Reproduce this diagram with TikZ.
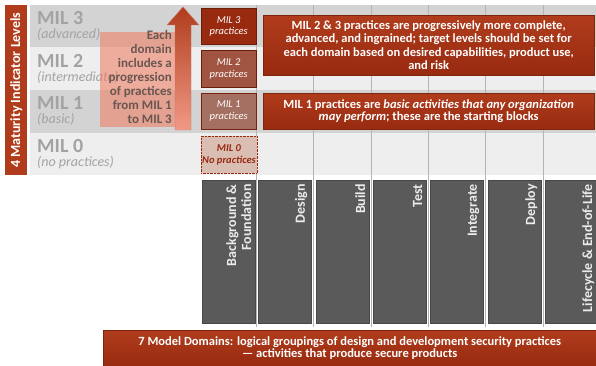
\documentclass[tikz,border=0pt]{standalone}
\usepackage{fontspec}
\setmainfont{Carlito}
\usetikzlibrary{positioning,shadings}

\definecolor{milred}{HTML}{B03C1C}
\definecolor{milreddark}{HTML}{982A10}
\definecolor{domgray}{HTML}{5A5A5A}
\definecolor{bandgray}{HTML}{D3D3D3}
\definecolor{bandlight}{HTML}{EEEEEE}
\definecolor{labelgray}{HTML}{A3A3A3}
\definecolor{colline}{HTML}{B4B4B4}
\definecolor{arrowtext}{HTML}{6A5650}
\definecolor{salmon}{HTML}{EE8068}

\tikzset{
  redbox/.style={rectangle, top color=milred, bottom color=milreddark,
    draw=milreddark!85!black, text=white, align=center, inner sep=2pt,
    font=\bfseries\fontsize{12.5}{13.5}\selectfont},
  milbox/.style={rectangle, anchor=north west, minimum width=55pt,
    text=white, align=center, inner sep=1pt,
    font=\itshape\fontsize{10.5}{11.5}\selectfont},
  domainbox/.style={rectangle, anchor=north west, fill=domgray,
    draw=domgray!80!black, minimum width=53pt, minimum height=143pt},
  domainlabel/.style={rotate=90, anchor=south east, text=white!92!black,
    align=right, inner sep=4pt, font=\bfseries\fontsize{14}{15}\selectfont},
  milname/.style={anchor=base west, text=labelgray, inner sep=0pt,
    font=\bfseries\fontsize{20}{22}\selectfont},
  milsub/.style={anchor=base west, text=labelgray, inner sep=0pt,
    font=\itshape\fontsize{14}{16}\selectfont}
}

\begin{document}
\begin{tikzpicture}[x=1pt, y=-1pt]
\useasboundingbox[fill=white] (0,0) rectangle (596,366);

% Level bands
\fill[bandgray]  (30,5)   rectangle (596,47);
\fill[bandlight] (30,47)  rectangle (596,90);
\fill[bandgray]  (30,90)  rectangle (596,133);
\fill[bandlight] (30,133) rectangle (596,175);

% Column lines
\foreach \x in {256, 313, 371, 428, 485, 543}
    \draw[colline, line width=1pt] (\x,5) -- (\x,327);

% Side bar
\node[rectangle, fill=milred, anchor=north west, minimum width=22pt,
      minimum height=170pt, inner sep=0pt] (sidebar) at (5,5) {};
\node[rotate=90, text=white, font=\bfseries\fontsize{14}{15}\selectfont]
      (sidetext) at (sidebar.center) {4 Maturity Indicator Levels};

% Level names
\node[milname] (mil3) at (37,25)  {MIL 3};
\node[milsub]  (sub3) at (37,39)  {(advanced)};
\node[milname] (mil2) at (37,68)  {MIL 2};
\node[milsub]  (sub2) at (37,82)  {(intermediate)};
\node[milname] (mil1) at (37,110) {MIL 1};
\node[milsub]  (sub1) at (37,124) {(basic)};
\node[milname] (mil0) at (37,153) {MIL 0};
\node[milsub]  (sub0) at (37,167) {(no practices)};

% Progression panel
\fill[salmon, opacity=0.6] (100,32) rectangle (175,127);
\node[anchor=north east, align=right, text=arrowtext, inner sep=0pt,
      font=\bfseries\fontsize{13}{14}\selectfont] (progtext) at (172,30)
      {Each\\domain\\includes a\\progression\\of practices\\from MIL 1\\to MIL 3};
\shade[top color=milred, bottom color=salmon!80!white, draw=milred!70!white]
      (175,130) -- (175,25) -- (167,25) -- (183,7) -- (199,25)
      -- (191,25) -- (191,130) -- cycle;

% Practice boxes
\node[milbox, fill=milreddark, draw=milreddark!70!black, minimum height=36pt]
      (prac3) at (201,8) {MIL 3\\practices};
\node[milbox, fill={rgb,255:red,160;green,84;blue,66}, draw=milreddark!70!black,
      minimum height=37pt] (prac2) at (201,50) {MIL 2\\practices};
\node[milbox, fill={rgb,255:red,164;green,112;blue,98}, draw=milreddark!80!black,
      minimum height=36pt] (prac1) at (201,93) {MIL 1\\practices};
\node[milbox, fill={rgb,255:red,218;green,190;blue,180}, draw=milreddark,
      densely dotted, text=milreddark, minimum height=37pt,
      font=\bfseries\itshape\fontsize{10.5}{11.5}\selectfont]
      (prac0) at (201,136) {MIL 0\\No practices};

% Callouts
\node[redbox, anchor=north west, minimum width=331pt, minimum height=60pt]
      (upper) at (263,15)
      {MIL 2 \& 3 practices are progressively more complete,\\
       advanced, and ingrained; target levels should be set for\\
       each domain based on desired capabilities, product use,\\
       and risk};
\node[redbox, anchor=north west, minimum width=331pt, minimum height=36pt,
      font=\bfseries\fontsize{12.5}{12.5}\selectfont]
      (lower) at (263,93)
      {MIL 1 practices are \textit{basic activities that any organization}\\
       \textit{may perform}; these are the starting blocks};

% Domains
\foreach \x/\name/\txt in {202/bf/{Background \&\\Foundation}, 258/design/Design,
    316/build/Build, 373/test/Test, 430/integrate/Integrate,
    488/deploy/Deploy, 545/life/{Lifecycle \& End-of-Life}} {
  \node[domainbox] (\name) at (\x,180) {};
  \node[domainlabel] (\name-label) at (\name.north east) {\txt};
}

% Domain caption
\node[redbox, anchor=north west, minimum width=493pt, minimum height=36pt,
      font=\bfseries\fontsize{12.5}{12.5}\selectfont]
      (caption) at (103,330)
      {7 Model Domains: logical groupings of design and development security practices\\
       --- activities that produce secure products};

\end{tikzpicture}
\end{document}
